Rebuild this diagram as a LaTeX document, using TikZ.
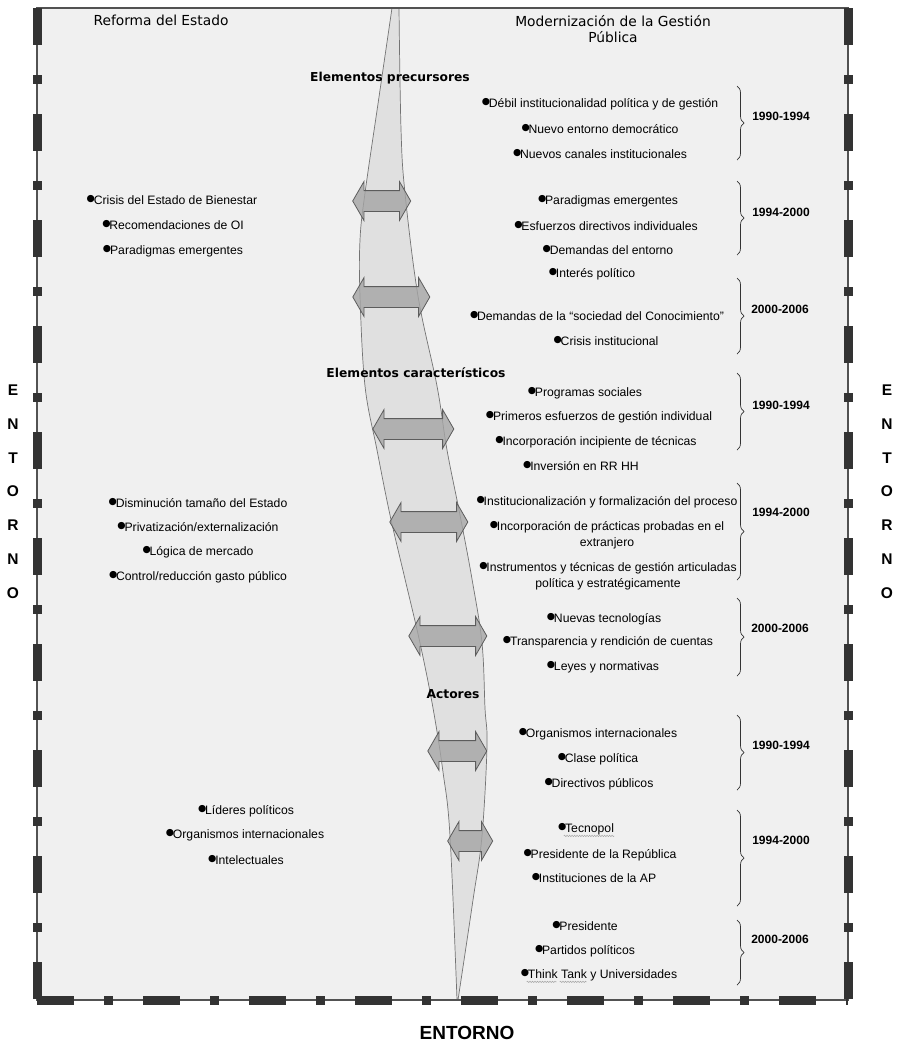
\documentclass[tikz,border=0pt]{standalone}
\usepackage{fontspec}
\setmainfont{Liberation Sans}
\newfontfamily\titlefont{DejaVu Sans}
\newfontfamily\symfont{DejaVu Sans}
\usetikzlibrary{shapes.arrows,decorations.pathreplacing,decorations.pathmorphing,calc}

\definecolor{fondo}{HTML}{F0F0F0}
\definecolor{banda}{HTML}{E0E0E0}
\definecolor{flecha}{HTML}{A4A4A4}
\definecolor{borde}{HTML}{333333}

\newcommand{\bul}{\raisebox{2.6pt}{\symfont\fontsize{9.5}{10}\selectfont ●}\kern-1.2pt}

\tikzset{
  item/.style={font=\fontsize{12.2}{16}\selectfont, align=center, inner sep=0pt},
  titulo/.style={font=\titlefont\fontsize{13.8}{16.5}\selectfont, align=center, inner sep=0pt},
  seccion/.style={font=\titlefont\bfseries\fontsize{12.3}{14}\selectfont, inner sep=0pt},
  fecha/.style={font=\bfseries\fontsize{12}{13}\selectfont, inner sep=0pt},
  ent/.style={font=\bfseries\fontsize{15.5}{16}\selectfont, inner sep=0pt},
  dflecha/.style={double arrow, draw=borde!80, fill=flecha, fill opacity=0.8,
    line width=0.8pt, minimum width=38pt, double arrow head extend=9pt,
    double arrow tip angle=120, inner xsep=0pt, inner ysep=10pt},
  llave/.style={decorate, decoration={brace, amplitude=7pt}, draw=borde, line width=0.7pt},
  ondas/.style={decorate, decoration={snake, amplitude=0.7pt, segment length=2.5pt}, draw=gray!70, line width=0.5pt},
  marco/.style={draw=borde!85, line width=1.3pt},
  trazo/.style={draw=borde, line width=9pt, dash pattern=on 37pt off 30pt on 9pt off 30pt}
}

\begin{document}
\begin{tikzpicture}[x=1pt, y=-1pt]
        \useasboundingbox (0,0) rectangle (900,1045);

        % fondo y banda central
        \fill[fondo] (37,8) rectangle (848,1000);
        \draw[draw=gray!90!black, fill=banda, line width=0.7pt]
          plot[smooth, tension=0.6] coordinates {(392,8) (379,97) (365,193) (360,240) (360,296) (365,386) (377,450) (390,515) (405,579) (420,643) (433,708) (443,772) (450,836) (457,1000)}
          -- plot[smooth, tension=0.6] coordinates {(458,1000) (473,900) (482,836) (487,746) (485,708) (482,643) (472,579) (460,515) (447,450) (437,386) (418,296) (405,193) (401,129) (399,8)}
          -- cycle;

        % flechas
        \node[dflecha, minimum height=58pt] at (381.7, 201) (f1) {};
        \node[dflecha, minimum height=77pt] at (391.3, 297) (f2) {};
        \node[dflecha, minimum height=81pt] at (413.3, 429) (f3) {};
        \node[dflecha, minimum height=78pt] at (428.8, 522) (f4) {};
        \node[dflecha, minimum height=78pt] at (447.8, 636) (f5) {};
        \node[dflecha, minimum height=59pt] at (457.3, 751) (f6) {};
        \node[dflecha, minimum height=45pt] at (470.2, 841) (f7) {};

        % marco
        \draw[marco] (37,8) rectangle (848,1000);
        \draw[trazo] (37,8) -- (37,1000);
        \draw[trazo] (848,8) -- (848,1000);
        \draw[trazo] (37,1000) -- (848,1000);

        % titulos
        \node[titulo] at (161, 20) (reforma) {Reforma del Estado};
        \node[titulo] at (613, 29) (modern) {Modernización de la Gestión\\Pública};
        \node[seccion] at (390, 78) (precursores) {Elementos precursores};
        \node[seccion] at (416, 373) (caracteristicos) {Elementos característicos};
        \node[seccion] at (453, 694) (actores) {Actores};

        % reforma del estado
        \node[item] at (172, 200) (rei1) {\bul Crisis del Estado de Bienestar};
        \node[item] at (173, 225) (rei2) {\bul Recomendaciones de OI};
        \node[item] at (173, 251) (rei3) {\bul Paradigmas emergentes};
        \node[item] at (198, 503) (rec1) {\bul Disminución tamaño del Estado};
        \node[item] at (198, 527) (rec2) {\bul Privatización/externalización};
        \node[item] at (198, 552) (rec3) {\bul Lógica de mercado};
        \node[item] at (198, 577) (rec4) {\bul Control/reducción gasto público};
        \node[item] at (246, 811) (rea1) {\bul Líderes políticos};
        \node[item] at (245, 835) (rea2) {\bul Organismos internacionales};
        \node[item] at (246, 860) (rea3) {\bul Intelectuales};

        % modernizacion: elementos precursores
        \node[item] at (600, 104) (mp1) {\bul Débil institucionalidad política y de gestión};
        \node[item] at (600, 129) (mp2) {\bul Nuevo entorno democrático};
        \node[item] at (600, 154) (mp3) {\bul Nuevos canales institucionales};
        \node[item] at (608, 201) (mp4) {\bul Paradigmas emergentes};
        \node[item] at (606, 226) (mp5) {\bul Esfuerzos directivos individuales};
        \node[item] at (608, 250) (mp6) {\bul Demandas del entorno};
        \node[item] at (592, 274) (mp7) {\bul Interés político};
        \node[item] at (597, 316) (mp8) {\bul Demandas de la “sociedad del Conocimiento”};
        \node[item] at (606, 341) (mp9) {\bul Crisis institucional};

        % modernizacion: elementos caracteristicos
        \node[item] at (585, 393) (mc1) {\bul Programas sociales};
        \node[item] at (599, 417) (mc2) {\bul Primeros esfuerzos de gestión individual};
        \node[item] at (596, 442) (mc3) {\bul Incorporación incipiente de técnicas};
        \node[item] at (581, 466) (mc4) {\bul Inversión en RR HH};
        \node[item] at (607, 502) (mc5) {\bul Institucionalización y formalización del proceso};
        \node[item] at (607, 535) (mc6) {\bul Incorporación de prácticas probadas en el\\extranjero};
        \node[item] at (608, 576) (mc7) {\bul Instrumentos y técnicas de gestión articuladas\\política y estratégicamente};
        \node[item] at (604, 619) (mc8) {\bul Nuevas tecnologías};
        \node[item] at (608, 642) (mc9) {\bul Transparencia y rendición de cuentas};
        \node[item] at (603, 667) (mc10) {\bul Leyes y normativas};

        % modernizacion: actores
        \node[item] at (598, 734) (ma1) {\bul Organismos internacionales};
        \node[item] at (598, 759) (ma2) {\bul Clase política};
        \node[item] at (599, 784) (ma3) {\bul Directivos públicos};
        \node[item] at (586, 829) (ma4) {\bul Tecnopol};
        \node[item] at (600, 855) (ma5) {\bul Presidente de la República};
        \node[item] at (594, 878) (ma6) {\bul Instituciones de la AP};
        \node[item] at (585, 926) (ma7) {\bul Presidente};
        \node[item] at (585, 951) (ma8) {\bul Partidos políticos};
        \node[item] at (599, 975) (ma9) {\bul Think Tank y Universidades};

        % subrayado del corrector
        \draw[ondas] ($(ma4.south west)+(6,1)$) -- ($(ma4.south east)+(0,1)$);
        \draw[ondas] ($(ma9.south west)+(6,1)$) -- ++(30,0);
        \draw[ondas] ($(ma9.south west)+(39,1)$) -- ++(27,0);

        % periodos
        \draw[llave] (737,86) -- (737,160);
        \draw[llave] (737,181) -- (737,255);
        \draw[llave] (737,278) -- (737,354);
        \draw[llave] (737,373) -- (737,450);
        \draw[llave] (737,483) -- (737,580);
        \draw[llave] (737,598) -- (737,676);
        \draw[llave] (737,715) -- (737,790);
        \draw[llave] (737,810) -- (737,906);
        \draw[llave] (737,920) -- (737,985);
        \node[fecha] at (781, 116) (p1) {1990-1994};
        \node[fecha] at (781, 212) (p2) {1994-2000};
        \node[fecha] at (780, 309) (p3) {2000-2006};
        \node[fecha] at (781, 405) (p4) {1990-1994};
        \node[fecha] at (781, 512) (p5) {1994-2000};
        \node[fecha] at (780, 628) (p6) {2000-2006};
        \node[fecha] at (781, 745) (p7) {1990-1994};
        \node[fecha] at (781, 840) (p8) {1994-2000};
        \node[fecha] at (780, 939) (p9) {2000-2006};

        % entorno
        \node[ent] at (13, 390) (ie1) {E};
        \node[ent] at (13, 424) (ie2) {N};
        \node[ent] at (13, 458) (ie3) {T};
        \node[ent] at (13, 491) (ie4) {O};
        \node[ent] at (13, 525) (ie5) {R};
        \node[ent] at (13, 559) (ie6) {N};
        \node[ent] at (13, 593) (ie7) {O};
        \node[ent] at (887, 390) (de1) {E};
        \node[ent] at (887, 424) (de2) {N};
        \node[ent] at (887, 458) (de3) {T};
        \node[ent] at (887, 491) (de4) {O};
        \node[ent] at (887, 525) (de5) {R};
        \node[ent] at (887, 559) (de6) {N};
        \node[ent] at (887, 593) (de7) {O};
        \node[ent, font=\bfseries\fontsize{19}{20}\selectfont] at (467, 1033) (abajo) {ENTORNO};

        \end{tikzpicture}
\end{document}
